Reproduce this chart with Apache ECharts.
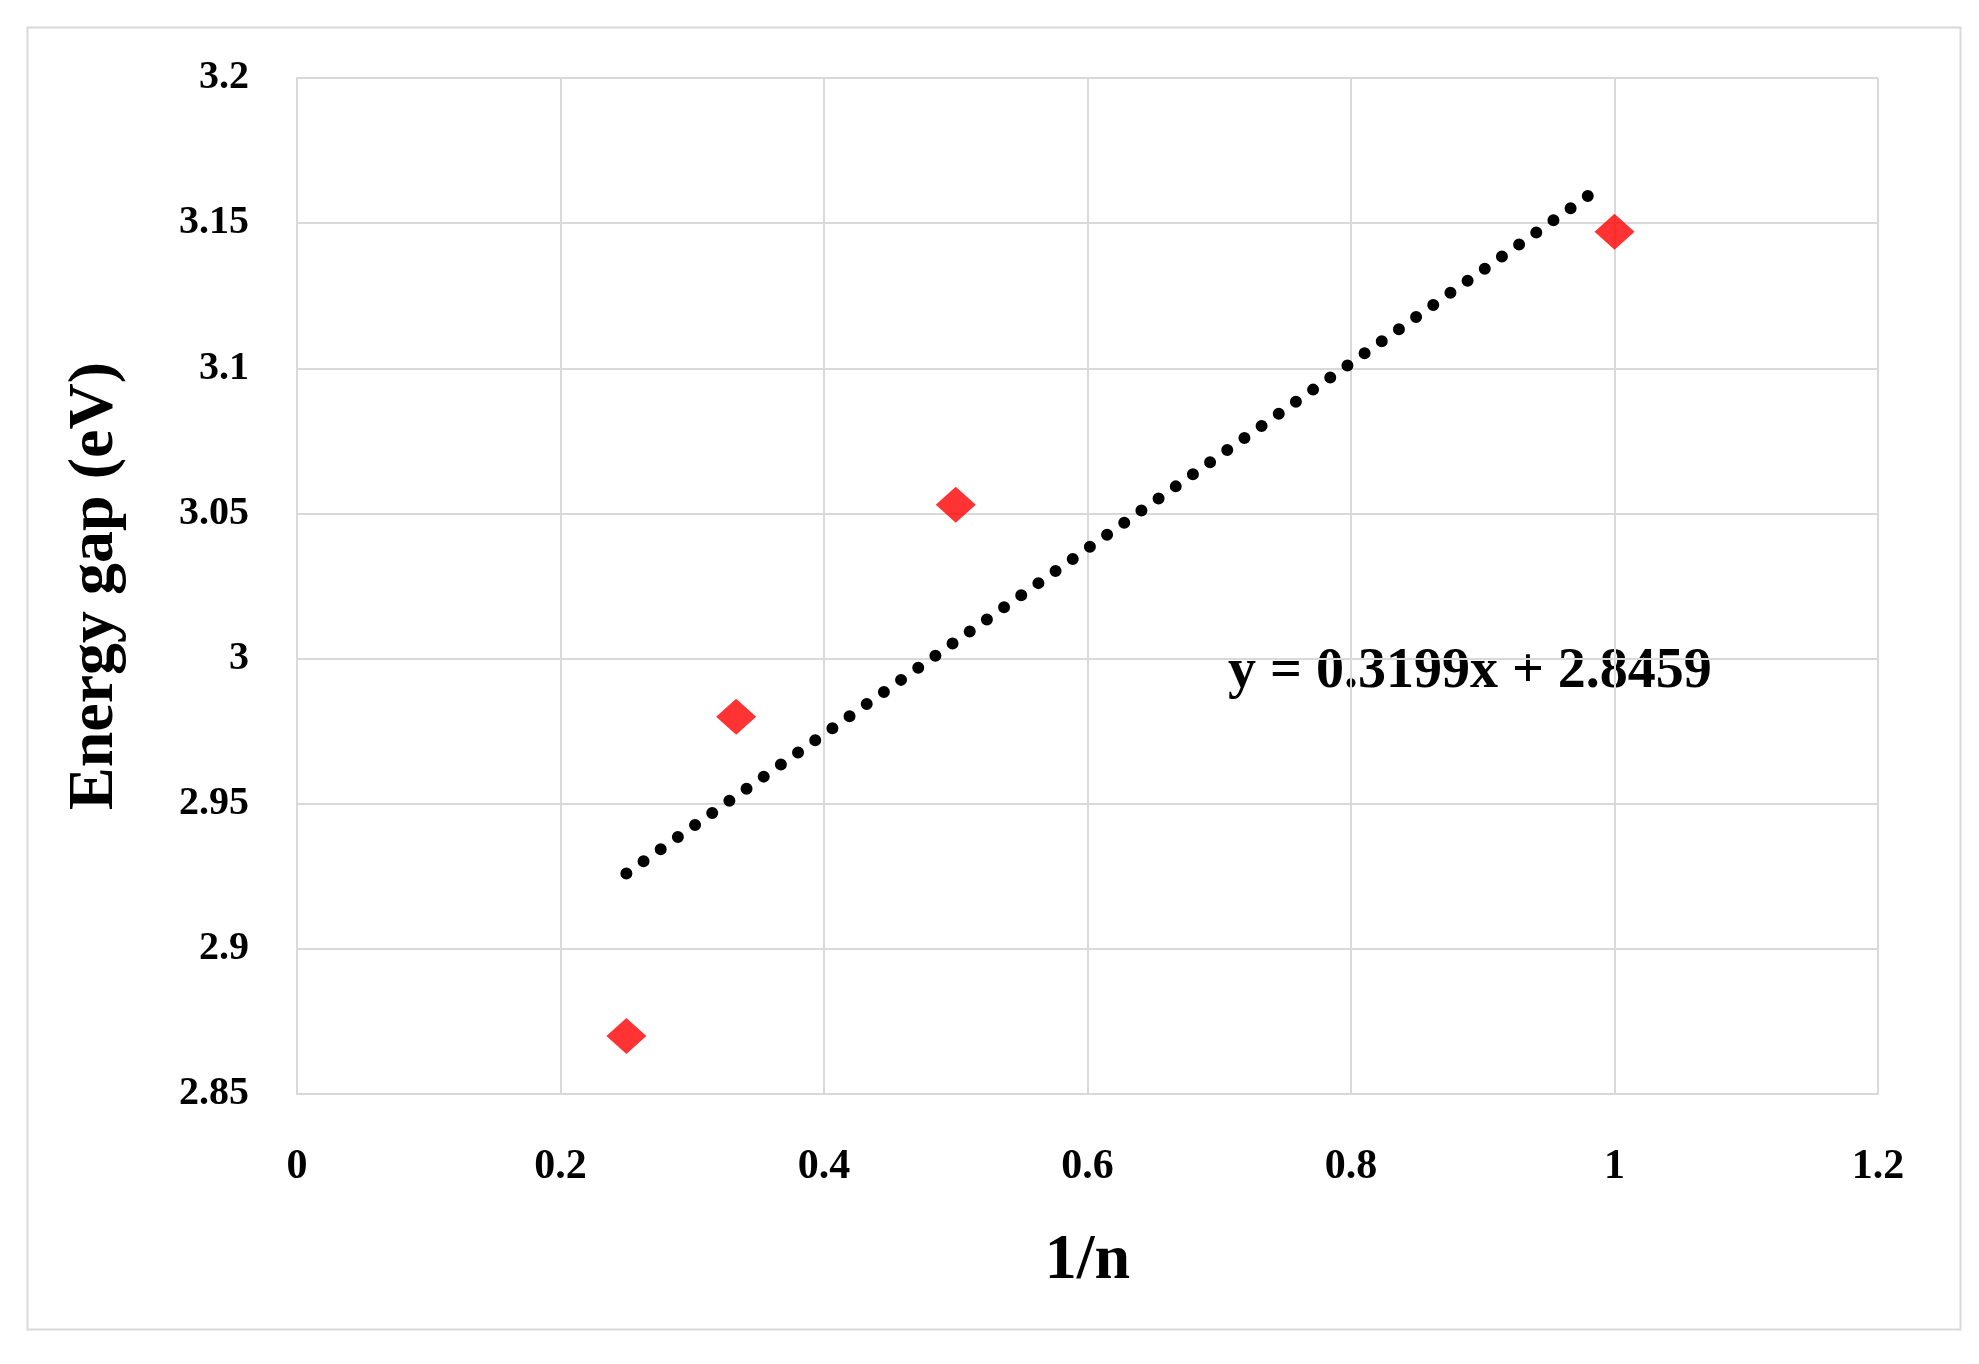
<!DOCTYPE html>
<html>
<head>
<meta charset="utf-8">
<script src="https://cdn.jsdelivr.net/npm/echarts@6/dist/echarts.min.js"></script>
<style>html,body{margin:0;padding:0;background:#fff}#chart{width:1979px;height:1364px}</style>
</head>
<body>
<div id="chart"></div>
<script>
// measured points
const xValues = [0.25, 0.3333, 0.5, 1.0];
const yValues = [2.87, 2.98, 3.053, 3.147];
// linear trendline endpoints: y = 0.3199x + 2.8459
const trendX = [0.25, 0.99];
const trendY = [2.926, 3.1626];
const equationText = 'y = 0.3199x + 2.8459';

const font = '"Liberation Serif", "DejaVu Serif", serif';
let chart = echarts.init(document.getElementById('chart'));

let option = {
    backgroundColor: '#fff',
    animation: false,
    grid: { left: 297, right: 101, top: 78, bottom: 270 },
    xAxis: {
        type: 'value', min: 0, max: 1.2, interval: 0.2,
        name: '1/n', nameLocation: 'middle', nameGap: 135,
        nameTextStyle: { fontFamily: font, fontWeight: 'bold', fontSize: 64, color: '#000' },
        axisLine: { show: true, lineStyle: { color: '#d9d9d9', width: 2 } },
        axisTick: { show: false },
        axisLabel: { fontFamily: font, fontWeight: 'bold', fontSize: 42, color: '#000', margin: 52,
            formatter: v => String(Math.round(v * 10) / 10) },
        splitLine: { lineStyle: { color: '#d9d9d9', width: 2 } }
    },
    yAxis: {
        type: 'value', min: 2.85, max: 3.2, interval: 0.05,
        name: 'Energy gap (eV)', nameLocation: 'middle', nameGap: 170,
        nameTextStyle: { fontFamily: font, fontWeight: 'bold', fontSize: 64, color: '#000' },
        axisLine: { show: true, lineStyle: { color: '#d9d9d9', width: 2 } },
        axisTick: { show: false },
        axisLabel: { fontFamily: font, fontWeight: 'bold', fontSize: 40, color: '#000', margin: 48,
            formatter: v => String(Math.round(v * 100) / 100) },
        splitLine: { lineStyle: { color: '#d9d9d9', width: 2 } }
    },
    series: [
        {
            type: 'line',
            data: trendX.map((x, i) => [x, trendY[i]]),
            symbol: 'none',
            lineStyle: { color: '#000', width: 12, type: [0, 21], cap: 'round' },
            z: 2
        },
        {
            type: 'scatter',
            data: xValues.map((x, i) => [x, yValues[i]]),
            symbol: 'diamond',
            symbolSize: [40, 36],
            itemStyle: { color: '#ff0000' },
            z: 3
        }
    ],
    graphic: [
        {
            type: 'rect', left: 25, top: 25, z: -1,
            shape: { width: 1933, height: 1302 },
            style: { fill: 'none', stroke: '#d9d9d9', lineWidth: 2 }
        },
        {
            type: 'text', left: 1228, top: 645,
            style: { text: equationText, fontFamily: font, fontWeight: 'bold', fontSize: 56, fill: '#000' }
        }
    ]
};
chart.setOption(option);
</script>
</body>
</html>
